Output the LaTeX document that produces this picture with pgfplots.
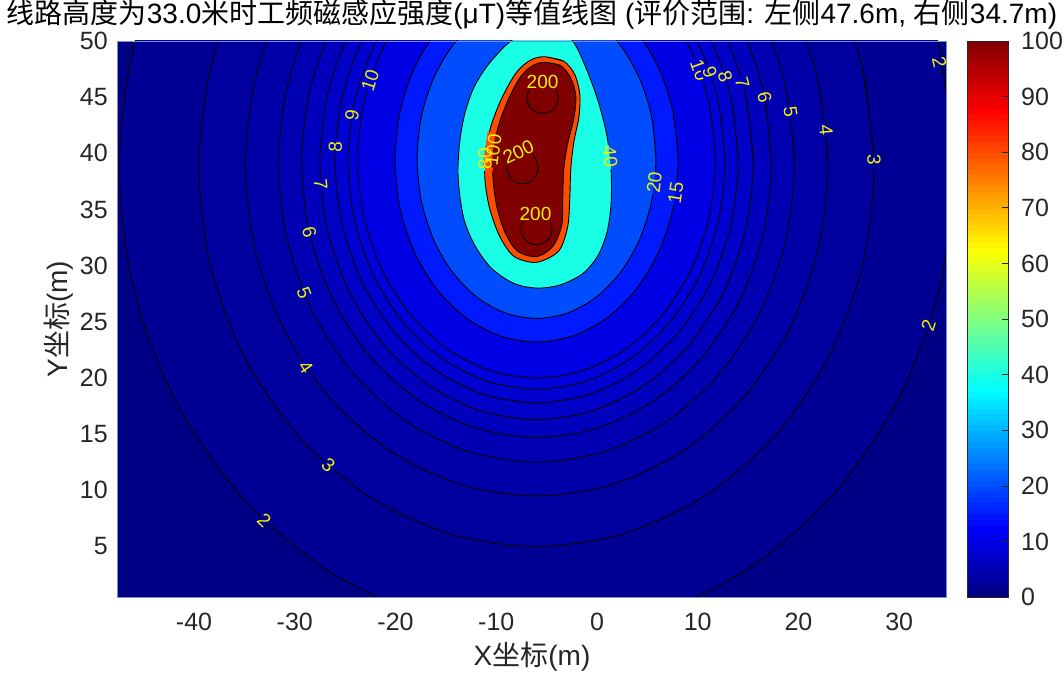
\documentclass[border=0pt]{standalone}
\usepackage{fontspec}
\setmainfont{Liberation Sans}
\newfontfamily\cjk{Noto Sans CJK SC}
\usepackage{pgfplots}
\pgfplotsset{compat=1.18}

% fill colours of the contour bands (jet, caxis 0..100)
\definecolor{lv0}{rgb}{0,0,0.53}
\definecolor{lv2}{rgb}{0,0,0.58}
\definecolor{lv3}{rgb}{0,0,0.62}
\definecolor{lv4}{rgb}{0,0,0.66}
\definecolor{lv5}{rgb}{0,0,0.70}
\definecolor{lv6}{rgb}{0,0,0.74}
\definecolor{lv7}{rgb}{0,0,0.78}
\definecolor{lv8}{rgb}{0,0,0.82}
\definecolor{lv9}{rgb}{0,0,0.86}
\definecolor{lv10}{rgb}{0,0,0.90}
\definecolor{lv15}{rgb}{0,0.1,1}
\definecolor{lv20}{rgb}{0,0.3,1}
\definecolor{lv40}{rgb}{0.1,1,0.9}
\definecolor{lv80}{rgb}{1,0.3,0}
\definecolor{lv100}{rgb}{0.5,0,0}
\definecolor{clabel}{rgb}{0.95,0.95,0}
\definecolor{tickgray}{rgb}{0.15,0.15,0.15}
\definecolor{boxedge}{rgb}{0.5,0.55,0.8}

\newcommand\ticklabfont{\fontsize{25}{25}\selectfont}
\newcommand\titlefont{\fontsize{28}{28}\selectfont}
\newcommand\labfont{\fontsize{28}{28}\selectfont}
\newcommand\clabfont{\fontsize{19}{19}\selectfont}

\pgfplotsset{ring/.style={draw=black, line width=0.9pt, smooth, fill=#1}}

% gap in a contour line under a label: two half boxes, one per side
\newcommand\cgap[6]{%
  \node[rotate=#3,anchor=south,fill=#5,inner xsep=1.5pt,inner ysep=0pt,
        text height=7.8pt,text depth=0pt,font=\clabfont] at (axis cs:#1,#2) {\phantom{#4}};%
  \node[rotate=#3,anchor=north,fill=#6,inner xsep=1.5pt,inner ysep=0pt,
        text height=7.8pt,text depth=0pt,font=\clabfont] at (axis cs:#1,#2) {\phantom{#4}};%
}
\newcommand\ctext[4]{%
  \node[rotate=#3,text=clabel,font=\clabfont,inner sep=0pt] at (axis cs:#1,#2) {#4};%
}
\newcommand\clab[6]{\cgap{#1}{#2}{#3}{#4}{#5}{#6}\ctext{#1}{#2}{#3}{#4}}

\begin{document}
\begin{tikzpicture}
\useasboundingbox (0,0) rectangle (1064pt,673pt);
\begin{axis}[
  at={(117.5pt,76pt)}, anchor=south west,
  width=829pt, height=556pt, scale only axis,
  xmin=-47.6, xmax=34.7, ymin=0.5, ymax=50,
  axis background/.style={fill=lv0},
  axis on top,
  axis line style={draw=boxedge, line width=0.6pt},
  major tick length=0pt,
  xtick={-40,-30,-20,-10,0,10,20,30},
  xticklabels={-40,-30,-20,-10,0,10,20,30},
  ytick={5,10,15,20,25,30,35,40,45,50},
  yticklabels={5,10,15,20,25,30,35,40,45,50},
  tick label style={font=\ticklabfont, text=tickgray, inner sep=0pt},
  xticklabel style={anchor=north, yshift=-16pt},
  yticklabel style={anchor=east, xshift=-9.5pt},
  title={{\cjk 线路高度为}33.0{\cjk 米时工频磁感应强度}(μT){\cjk 等值线图} ({\cjk 评价范围}: {\cjk 左侧}47.6m, {\cjk 右侧}34.7m)},
  title style={at={(axis description cs:0.5,1.0198)}, anchor=base, inner sep=0pt, font=\titlefont, text=black},
  xlabel={X{\cjk 坐标}(m)},
  xlabel style={at={(axis description cs:0.5,-0.1223)}, anchor=base, inner sep=0pt, font=\labfont, text=tickgray},
  ylabel={Y{\cjk 坐标}(m)},
  ylabel style={at={(axis description cs:-0.0603,0.5)}, anchor=base, inner sep=0pt, font=\labfont, text=tickgray},
]
% 2 uT
\addplot[ring=lv2] coordinates {(35.4,38.7) (33.99,49.41) (29.85,59.4) (23.27,67.97) (14.7,74.55) (4.71,78.69) (-6,80.1) (-16.71,78.69) (-26.7,74.55) (-35.27,67.97) (-41.85,59.4) (-45.99,49.41) (-47.4,38.7) (-45.99,27.99) (-41.85,18.0) (-35.27,9.43) (-26.7,2.85) (-16.71,-1.29) (-6,-2.7) (4.71,-1.29) (14.7,2.85) (23.27,9.43) (29.85,18.0) (33.99,27.99) (35.4,38.7) (33.99,49.41)};
% 3 uT
\addplot[ring=lv3] coordinates {(27.5,38.8) (26.36,47.55) (23.01,55.7) (17.69,62.7) (10.75,68.07) (2.67,71.45) (-6,72.6) (-14.67,71.45) (-22.75,68.07) (-29.69,62.7) (-35.01,55.7) (-38.36,47.55) (-39.5,38.8) (-38.36,30.05) (-35.01,21.9) (-29.69,14.9) (-22.75,9.53) (-14.67,6.15) (-6,5.0) (2.67,6.15) (10.75,9.53) (17.69,14.9) (23.01,21.9) (26.36,30.05) (27.5,38.8) (26.36,47.55)};
% 4 uT
\addplot[ring=lv4] coordinates {(22.9,39) (21.91,46.63) (19.03,53.75) (14.44,59.86) (8.45,64.55) (1.48,67.49) (-6,68.5) (-13.48,67.49) (-20.45,64.55) (-26.44,59.86) (-31.03,53.75) (-33.91,46.63) (-34.9,39) (-33.91,31.37) (-31.03,24.25) (-26.44,18.14) (-20.45,13.45) (-13.48,10.51) (-6,9.5) (1.48,10.51) (8.45,13.45) (14.44,18.14) (19.03,24.25) (21.91,31.37) (22.9,39) (21.91,46.63)};
% 5 uT
\addplot[ring=lv5] coordinates {(19.6,39.1) (18.73,45.98) (16.17,52.4) (12.10,57.91) (6.8,62.14) (0.63,64.79) (-6,65.7) (-12.63,64.79) (-18.8,62.14) (-24.10,57.91) (-28.17,52.4) (-30.73,45.98) (-31.6,39.1) (-30.73,32.22) (-28.17,25.8) (-24.10,20.29) (-18.8,16.06) (-12.63,13.41) (-6,12.5) (0.63,13.41) (6.8,16.06) (12.10,20.29) (16.17,25.8) (18.73,32.22) (19.6,39.1) (18.73,45.98)};
% 6 uT
\addplot[ring=lv6] coordinates {(17.3,39.2) (16.51,45.54) (14.18,51.45) (10.48,56.52) (5.65,60.42) (0.03,62.86) (-6,63.7) (-12.03,62.86) (-17.65,60.42) (-22.48,56.52) (-26.18,51.45) (-28.51,45.54) (-29.3,39.2) (-28.51,32.86) (-26.18,26.95) (-22.48,21.88) (-17.65,17.98) (-12.03,15.54) (-6,14.7) (0.03,15.54) (5.65,17.98) (10.48,21.88) (14.18,26.95) (16.51,32.86) (17.3,39.2) (16.51,45.54)};
% 7 uT
\addplot[ring=lv7] coordinates {(15.5,39.2) (14.77,45.13) (12.62,50.65) (9.20,55.39) (4.75,59.03) (-0.44,61.32) (-6,62.1) (-11.56,61.32) (-16.75,59.03) (-21.20,55.39) (-24.62,50.65) (-26.77,45.13) (-27.5,39.2) (-26.77,33.27) (-24.62,27.75) (-21.20,23.01) (-16.75,19.37) (-11.56,17.08) (-6,16.3) (-0.44,17.08) (4.75,19.37) (9.20,23.01) (12.62,27.75) (14.77,33.27) (15.5,39.2) (14.77,45.13)};
% 8 uT
\addplot[ring=lv8] coordinates {(14,39.3) (13.32,44.86) (11.32,50.05) (8.14,54.5) (4,57.92) (-0.82,60.07) (-6,60.8) (-11.18,60.07) (-16,57.92) (-20.14,54.5) (-23.32,50.05) (-25.32,44.86) (-26,39.3) (-25.32,33.74) (-23.32,28.55) (-20.14,24.1) (-16,20.68) (-11.18,18.53) (-6,17.8) (-0.82,18.53) (4,20.68) (8.14,24.1) (11.32,28.55) (13.32,33.74) (14,39.3) (13.32,44.86)};
% 9 uT
\addplot[ring=lv9] coordinates {(12.7,39.3) (12.06,44.55) (10.19,49.45) (7.22,53.65) (3.35,56.88) (-1.16,58.91) (-6,59.6) (-10.84,58.91) (-15.35,56.88) (-19.22,53.65) (-22.19,49.45) (-24.06,44.55) (-24.7,39.3) (-24.06,34.05) (-22.19,29.15) (-19.22,24.95) (-15.35,21.72) (-10.84,19.69) (-6,19.0) (-1.16,19.69) (3.35,21.72) (7.22,24.95) (10.19,29.15) (12.06,34.05) (12.7,39.3) (12.06,44.55)};
% 10 uT
\addplot[ring=lv10] coordinates {(11.75,39.4) (11.14,44.42) (9.37,49.1) (6.55,53.12) (2.88,56.2) (-1.41,58.14) (-6,58.8) (-10.59,58.14) (-14.88,56.2) (-18.55,53.12) (-21.37,49.1) (-23.14,44.42) (-23.75,39.4) (-23.14,34.38) (-21.37,29.7) (-18.55,25.68) (-14.88,22.6) (-10.59,20.66) (-6,20.0) (-1.41,20.66) (2.88,22.6) (6.55,25.68) (9.37,29.7) (11.14,34.38) (11.75,39.4) (11.14,44.42)};
% 15 uT
\addplot[ring=lv15] coordinates {(8.05,39.4) (7.57,43.59) (6.17,47.5) (3.93,50.86) (1.03,53.43) (-2.36,55.05) (-6,55.6) (-9.64,55.05) (-13.03,53.43) (-15.93,50.86) (-18.17,47.5) (-19.57,43.59) (-20.05,39.4) (-19.57,35.21) (-18.17,31.3) (-15.93,27.94) (-13.03,25.37) (-9.64,23.75) (-6,23.2) (-2.36,23.75) (1.03,25.37) (3.93,27.94) (6.17,31.3) (7.57,35.21) (8.05,39.4) (7.57,43.59)};
% 20 uT
\addplot[ring=lv20] coordinates {(5.85,39.5) (5.45,43.18) (4.26,46.6) (2.38,49.54) (-0.08,51.8) (-2.93,53.22) (-6,53.7) (-9.07,53.22) (-11.93,51.8) (-14.38,49.54) (-16.26,46.6) (-17.45,43.18) (-17.85,39.5) (-17.45,35.83) (-16.26,32.4) (-14.38,29.46) (-11.93,27.2) (-9.07,25.78) (-6,25.3) (-2.93,25.78) (-0.08,27.2) (2.38,29.46) (4.26,32.4) (5.45,35.83) (5.85,39.5) (5.45,43.18)};
% 40 uT
\addplot[ring=lv40] coordinates {(-5.4,51.3) (-2.6,50.2) (-1.0,47.4) (0.2,44.4) (1.0,41.5) (1.4,38.5) (1.4,35.5) (1.0,33.0) (0.1,30.9) (-1.4,29.3) (-3.6,28.3) (-5.9,28.0) (-8.2,28.4) (-10.4,29.7) (-12.0,31.6) (-13.1,33.8) (-13.6,36.1) (-13.8,38.5) (-13.6,41.2) (-13.1,43.6) (-12.2,45.9) (-10.7,48.0) (-8.4,50.1) (-5.4,51.3) (-2.6,50.2)};
% 80 uT
\addplot[ring=lv80] coordinates {(-5.2,48.6) (-3.3,48.2) (-2.2,47.0) (-1.7,45.2) (-1.8,43.2) (-2.3,41.0) (-2.6,38.6) (-2.7,36.0) (-2.9,33.5) (-3.8,31.3) (-6.0,30.3) (-8.2,30.8) (-9.6,32.5) (-10.6,34.9) (-11.1,37.4) (-11.1,40.0) (-10.5,42.5) (-9.4,45.0) (-8.0,47.2) (-6.6,48.3) (-5.2,48.6) (-3.3,48.2)};
% 100 uT
\addplot[ring=lv100] coordinates {(-5.2,48.1) (-3.6,47.8) (-2.6,46.7) (-2.1,45.1) (-2.3,43.1) (-2.9,40.9) (-3.3,38.6) (-3.4,36.0) (-3.5,33.6) (-4.4,31.7) (-6.0,30.8) (-7.9,31.3) (-9.1,32.9) (-9.9,35.1) (-10.3,37.5) (-10.3,40.0) (-9.8,42.4) (-8.8,44.8) (-7.6,46.8) (-6.4,47.8) (-5.2,48.1) (-3.6,47.8)};
% 200 uT, one loop per conductor
\addplot[ring=lv100] coordinates {(-3.85,44.95) (-4.06,45.65) (-4.63,46.16) (-5.4,46.35) (-6.18,46.16) (-6.74,45.65) (-6.95,44.95) (-6.74,44.25) (-6.18,43.74) (-5.4,43.55) (-4.63,43.74) (-4.06,44.25) (-3.85,44.95) (-4.06,45.65)};
\addplot[ring=lv100] coordinates {(-5.85,38.75) (-6.06,39.49) (-6.63,40.02) (-7.4,40.22) (-8.18,40.02) (-8.74,39.49) (-8.95,38.75) (-8.74,38.02) (-8.18,37.48) (-7.4,37.28) (-6.63,37.48) (-6.06,38.02) (-5.85,38.75) (-6.06,39.49)};
\addplot[ring=lv100] coordinates {(-4.45,33.25) (-4.66,33.95) (-5.23,34.46) (-6.0,34.65) (-6.78,34.46) (-7.34,33.95) (-7.55,33.25) (-7.34,32.55) (-6.78,32.04) (-6.0,31.85) (-5.23,32.04) (-4.66,32.55) (-4.45,33.25) (-4.66,33.95)};

% contour labels, left side
\clab{-22.52}{46.5}{72}{10}{lv9}{lv10}
\clab{-24.31}{43.4}{80.5}{9}{lv8}{lv9}
\clab{-25.96}{40.6}{87}{8}{lv7}{lv8}
\clab{-27.42}{37.2}{-86}{7}{lv7}{lv6}
\clab{-28.54}{33.0}{-77}{6}{lv6}{lv5}
\clab{-29.08}{27.6}{-68}{5}{lv5}{lv4}
\clab{-28.9}{21.0}{-56}{4}{lv4}{lv3}
\clab{-26.67}{12.2}{-41.5}{3}{lv3}{lv2}
\clab{-33.04}{7.35}{-43.6}{2}{lv2}{lv0}
% right side
\clab{10.17}{47.4}{-70}{10}{lv9}{lv10}
\clab{11.2}{47.2}{-70}{9}{lv8}{lv9}
\clab{12.74}{46.8}{-72.5}{8}{lv7}{lv8}
\clab{14.44}{46.3}{-74.7}{7}{lv6}{lv7}
\clab{16.64}{45.0}{-78}{6}{lv5}{lv6}
\clab{19.22}{43.7}{-81.7}{5}{lv4}{lv5}
\clab{22.74}{42.1}{-84.7}{4}{lv3}{lv4}
\clab{27.5}{39.4}{-89}{3}{lv2}{lv3}
\clab{34.0}{48.1}{-78}{2}{lv0}{lv2}
\clab{32.9}{24.7}{72}{2}{lv2}{lv0}
\clab{7.82}{36.5}{81.6}{15}{lv15}{lv10}
\clab{5.7}{37.4}{83.5}{20}{lv20}{lv15}
\clab{1.3}{39.7}{-84}{40}{lv20}{lv40}
% around the conductors
\cgap{-11.1}{39.5}{90}{80}{lv40}{lv80}
\cgap{-10.3}{40.3}{82}{100}{lv80}{lv100}
\ctext{-11.1}{39.5}{90}{80}
\ctext{-10.3}{40.3}{82}{100}
\clab{-5.4}{46.35}{0}{200}{lv100}{lv100}
\clab{-7.8}{40.1}{25}{200}{lv100}{lv100}
\clab{-6.1}{34.6}{0}{200}{lv100}{lv100}
\end{axis}

% colour scale, 0..100 uT
\begin{axis}[
  at={(967pt,76pt)}, anchor=south west,
  width=41pt, height=556pt, scale only axis,
  xmin=0, xmax=1, ymin=0, ymax=100,
  xtick=\empty,
  ytick={0,10,20,30,40,50,60,70,80,90,100},
  yticklabels={0,10,20,30,40,50,60,70,80,90,100},
  yticklabel pos=right, ytick pos=right,
  tick align=inside, major tick length=6pt,
  yticklabel style={font=\ticklabfont, text=tickgray, anchor=west, inner sep=0pt, xshift=13pt},
  tick style={draw=tickgray, line width=0.6pt},
  axis line style={draw=tickgray, line width=0.6pt},
  axis on top,
  colormap/jet, point meta min=0, point meta max=100,
]
\addplot[surf, shader=flat mean, mesh/cols=2, point meta=y] coordinates {
(0,0) (1,0) (0,1) (1,1) (0,2) (1,2) (0,3) (1,3) (0,4) (1,4) (0,5) (1,5) (0,6) (1,6) (0,7) (1,7) (0,8) (1,8) (0,9) (1,9)
(0,10) (1,10) (0,11) (1,11) (0,12) (1,12) (0,13) (1,13) (0,14) (1,14) (0,15) (1,15) (0,16) (1,16) (0,17) (1,17) (0,18) (1,18) (0,19) (1,19)
(0,20) (1,20) (0,21) (1,21) (0,22) (1,22) (0,23) (1,23) (0,24) (1,24) (0,25) (1,25) (0,26) (1,26) (0,27) (1,27) (0,28) (1,28) (0,29) (1,29)
(0,30) (1,30) (0,31) (1,31) (0,32) (1,32) (0,33) (1,33) (0,34) (1,34) (0,35) (1,35) (0,36) (1,36) (0,37) (1,37) (0,38) (1,38) (0,39) (1,39)
(0,40) (1,40) (0,41) (1,41) (0,42) (1,42) (0,43) (1,43) (0,44) (1,44) (0,45) (1,45) (0,46) (1,46) (0,47) (1,47) (0,48) (1,48) (0,49) (1,49)
(0,50) (1,50) (0,51) (1,51) (0,52) (1,52) (0,53) (1,53) (0,54) (1,54) (0,55) (1,55) (0,56) (1,56) (0,57) (1,57) (0,58) (1,58) (0,59) (1,59)
(0,60) (1,60) (0,61) (1,61) (0,62) (1,62) (0,63) (1,63) (0,64) (1,64) (0,65) (1,65) (0,66) (1,66) (0,67) (1,67) (0,68) (1,68) (0,69) (1,69)
(0,70) (1,70) (0,71) (1,71) (0,72) (1,72) (0,73) (1,73) (0,74) (1,74) (0,75) (1,75) (0,76) (1,76) (0,77) (1,77) (0,78) (1,78) (0,79) (1,79)
(0,80) (1,80) (0,81) (1,81) (0,82) (1,82) (0,83) (1,83) (0,84) (1,84) (0,85) (1,85) (0,86) (1,86) (0,87) (1,87) (0,88) (1,88) (0,89) (1,89)
(0,90) (1,90) (0,91) (1,91) (0,92) (1,92) (0,93) (1,93) (0,94) (1,94) (0,95) (1,95) (0,96) (1,96) (0,97) (1,97) (0,98) (1,98) (0,99) (1,99)
(0,100) (1,100)
};
\end{axis}
\end{tikzpicture}
\end{document}
